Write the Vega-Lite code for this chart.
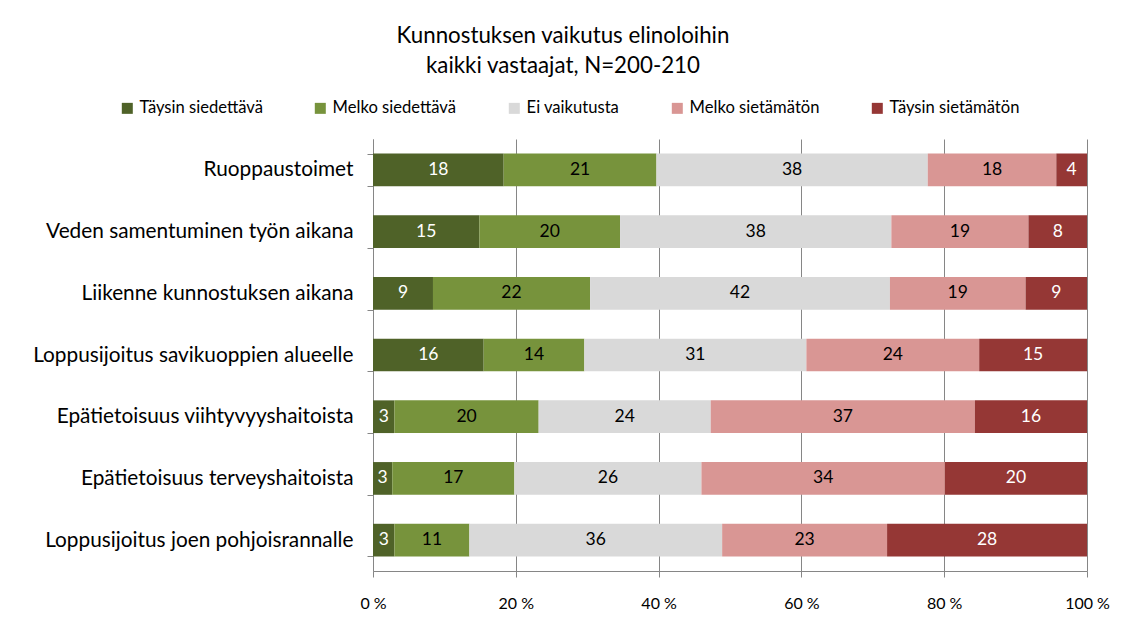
{
  "$schema": "https://vega.github.io/schema/vega-lite/v6.json",
  "autosize": {"type": "none"},
  "padding": {"left": 373, "top": 139, "right": 41, "bottom": 47},
  "width": 714,
  "height": 432,
  "background": "white",
  "title": {
    "text": ["Kunnostuksen vaikutus elinoloihin", "kaikki vastaajat, N=200-210"],
    "fontSize": 22.3,
    "fontWeight": "normal",
    "font": "Lato",
    "color": "#000000",
    "lineHeight": 30,
    "anchor": "middle",
    "dx": -167,
    "offset": 23
  },
  "data": {
    "values": [
      {"cat": "Ruoppaustoimet", "resp": "Täysin siedettävä", "o": 1, "value": 18.3, "label": 18},
      {"cat": "Ruoppaustoimet", "resp": "Melko siedettävä", "o": 2, "value": 21.4, "label": 21},
      {"cat": "Ruoppaustoimet", "resp": "Ei vaikutusta", "o": 3, "value": 38.0, "label": 38},
      {"cat": "Ruoppaustoimet", "resp": "Melko sietämätön", "o": 4, "value": 18.0, "label": 18},
      {"cat": "Ruoppaustoimet", "resp": "Täysin sietämätön", "o": 5, "value": 4.3, "label": 4},
      {"cat": "Veden samentuminen työn aikana", "resp": "Täysin siedettävä", "o": 1, "value": 14.9, "label": 15},
      {"cat": "Veden samentuminen työn aikana", "resp": "Melko siedettävä", "o": 2, "value": 19.7, "label": 20},
      {"cat": "Veden samentuminen työn aikana", "resp": "Ei vaikutusta", "o": 3, "value": 38.0, "label": 38},
      {"cat": "Veden samentuminen työn aikana", "resp": "Melko sietämätön", "o": 4, "value": 19.2, "label": 19},
      {"cat": "Veden samentuminen työn aikana", "resp": "Täysin sietämätön", "o": 5, "value": 8.2, "label": 8},
      {"cat": "Liikenne kunnostuksen aikana", "resp": "Täysin siedettävä", "o": 1, "value": 8.4, "label": 9},
      {"cat": "Liikenne kunnostuksen aikana", "resp": "Melko siedettävä", "o": 2, "value": 22.0, "label": 22},
      {"cat": "Liikenne kunnostuksen aikana", "resp": "Ei vaikutusta", "o": 3, "value": 42.0, "label": 42},
      {"cat": "Liikenne kunnostuksen aikana", "resp": "Melko sietämätön", "o": 4, "value": 19.0, "label": 19},
      {"cat": "Liikenne kunnostuksen aikana", "resp": "Täysin sietämätön", "o": 5, "value": 8.6, "label": 9},
      {"cat": "Loppusijoitus savikuoppien alueelle", "resp": "Täysin siedettävä", "o": 1, "value": 15.5, "label": 16},
      {"cat": "Loppusijoitus savikuoppien alueelle", "resp": "Melko siedettävä", "o": 2, "value": 14.1, "label": 14},
      {"cat": "Loppusijoitus savikuoppien alueelle", "resp": "Ei vaikutusta", "o": 3, "value": 31.1, "label": 31},
      {"cat": "Loppusijoitus savikuoppien alueelle", "resp": "Melko sietämätön", "o": 4, "value": 24.2, "label": 24},
      {"cat": "Loppusijoitus savikuoppien alueelle", "resp": "Täysin sietämätön", "o": 5, "value": 15.1, "label": 15},
      {"cat": "Epätietoisuus viihtyvyyshaitoista", "resp": "Täysin siedettävä", "o": 1, "value": 3.0, "label": 3},
      {"cat": "Epätietoisuus viihtyvyyshaitoista", "resp": "Melko siedettävä", "o": 2, "value": 20.2, "label": 20},
      {"cat": "Epätietoisuus viihtyvyyshaitoista", "resp": "Ei vaikutusta", "o": 3, "value": 24.1, "label": 24},
      {"cat": "Epätietoisuus viihtyvyyshaitoista", "resp": "Melko sietämätön", "o": 4, "value": 37.0, "label": 37},
      {"cat": "Epätietoisuus viihtyvyyshaitoista", "resp": "Täysin sietämätön", "o": 5, "value": 15.7, "label": 16},
      {"cat": "Epätietoisuus terveyshaitoista", "resp": "Täysin siedettävä", "o": 1, "value": 2.7, "label": 3},
      {"cat": "Epätietoisuus terveyshaitoista", "resp": "Melko siedettävä", "o": 2, "value": 17.1, "label": 17},
      {"cat": "Epätietoisuus terveyshaitoista", "resp": "Ei vaikutusta", "o": 3, "value": 26.2, "label": 26},
      {"cat": "Epätietoisuus terveyshaitoista", "resp": "Melko sietämätön", "o": 4, "value": 34.1, "label": 34},
      {"cat": "Epätietoisuus terveyshaitoista", "resp": "Täysin sietämätön", "o": 5, "value": 19.9, "label": 20},
      {"cat": "Loppusijoitus joen pohjoisrannalle", "resp": "Täysin siedettävä", "o": 1, "value": 3.0, "label": 3},
      {"cat": "Loppusijoitus joen pohjoisrannalle", "resp": "Melko siedettävä", "o": 2, "value": 10.5, "label": 11},
      {"cat": "Loppusijoitus joen pohjoisrannalle", "resp": "Ei vaikutusta", "o": 3, "value": 35.4, "label": 36},
      {"cat": "Loppusijoitus joen pohjoisrannalle", "resp": "Melko sietämätön", "o": 4, "value": 23.1, "label": 23},
      {"cat": "Loppusijoitus joen pohjoisrannalle", "resp": "Täysin sietämätön", "o": 5, "value": 28.0, "label": 28}
    ]
  },
  "transform": [
    {"stack": "value", "groupby": ["cat"], "sort": [{"field": "o", "order": "ascending"}], "offset": "normalize", "as": ["v0", "v1"]},
    {"calculate": "(datum.v0 + datum.v1) / 2", "as": "vm"}
  ],
  "encoding": {
    "y": {
      "field": "cat",
      "type": "nominal",
      "sort": null,
      "title": null,
      "scale": {"paddingInner": 0.47, "paddingOuter": 0.235},
      "axis": {
        "domainColor": "#868686",
        "tickColor": "#868686",
        "tickSize": 6,
        "tickBand": "extent",
        "labelFontSize": 20.8,
        "labelFont": "Lato",
        "labelColor": "#000000",
        "labelPadding": 14,
        "labelLimit": 400,
        "grid": false
      }
    }
  },
  "layer": [
    {
      "mark": {"type": "bar"},
      "encoding": {
        "x": {
          "field": "v0",
          "type": "quantitative",
          "title": null,
          "scale": {"domain": [0, 1], "nice": false},
          "axis": {
            "values": [0, 0.2, 0.4, 0.6, 0.8, 1],
            "labelExpr": "format(datum.value * 100, '.0f') + ' %'",
            "grid": true,
            "gridColor": "#868686",
            "gridWidth": 1,
            "domainColor": "#868686",
            "tickColor": "#868686",
            "tickSize": 6,
            "labelFontSize": 16,
            "labelFont": "Lato",
            "labelColor": "#000000",
            "labelPadding": 18,
            "labelFlush": false
          }
        },
        "x2": {"field": "v1"},
        "color": {
          "field": "resp",
          "type": "nominal",
          "title": null,
          "scale": {
            "domain": ["Täysin siedettävä", "Melko siedettävä", "Ei vaikutusta", "Melko sietämätön", "Täysin sietämätön"],
            "range": ["#4f6228", "#77933c", "#d9d9d9", "#d99694", "#953735"]
          },
          "legend": {
            "orient": "none",
            "legendX": -254,
            "legendY": -39,
            "direction": "horizontal",
            "symbolType": "square",
            "symbolSize": 121,
            "symbolStrokeWidth": 0,
            "labelFontSize": 16.6,
            "labelFont": "Lato",
            "labelColor": "#000000",
            "labelOffset": 4,
            "columnPadding": 49,
            "labelLimit": 300
          }
        }
      }
    },
    {
      "mark": {"type": "text", "font": "Lato", "fontSize": 17.5, "baseline": "middle", "align": "center"},
      "encoding": {
        "x": {"field": "vm", "type": "quantitative"},
        "text": {"field": "label", "type": "quantitative"},
        "color": {"condition": {"test": "datum.o == 1 || datum.o == 5", "value": "#ffffff"}, "value": "#000000"}
      }
    }
  ],
  "config": {
    "font": "Lato",
    "view": {"stroke": null}
  }
}
